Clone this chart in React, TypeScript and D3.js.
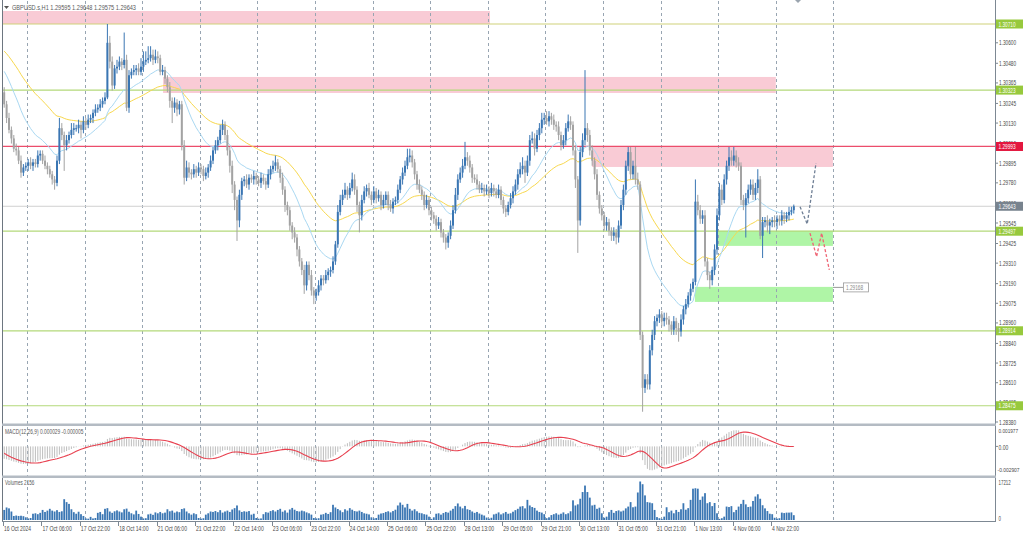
import React from 'react';
import * as d3 from 'd3';

// ---------- DATA (prices in pips above 1.28000) ----------
const PIP_BASE = 1.28;
const firstOpen = 231;
const closes = [
  224,216,209,204,198,197,191,184,187,188,
  190,188,190,189,194,195,191,188,186,183,
  180,178,191,210,206,200,203,206,209,210,
  210,212,209,214,212,215,216,219,221,222,
  224,226,228,260,249,235,245,246,249,247,
  250,222,241,243,244,245,243,246,249,250,
  251,253,250,252,251,243,244,239,234,226,
  222,225,221,224,200,181,187,184,183,186,
  184,187,186,182,184,187,191,197,200,203,
  209,212,206,197,188,177,168,156,171,179,
  180,177,181,180,182,180,178,181,179,177,
  183,186,188,190,186,181,174,165,162,153,
  149,146,139,132,127,118,130,124,115,112,
  114,118,122,121,124,126,127,132,142,161,
  168,171,174,171,175,180,174,165,159,168,
  173,175,171,168,173,169,171,165,168,171,
  165,163,167,168,174,180,184,188,193,194,
  190,183,177,174,171,165,168,162,159,157,
  153,155,149,146,143,147,153,162,171,180,
  184,188,193,191,187,181,180,177,174,175,
  173,174,172,175,173,171,174,168,163,161,
  165,169,173,177,183,186,188,184,191,203,
  204,198,206,210,215,216,214,217,215,212,
  211,206,200,203,210,214,212,197,180,156,
  196,203,210,206,197,191,183,171,163,159,
  153,155,150,147,149,146,153,165,174,188,
  196,183,188,180,177,89,58,63,60,80,
  89,97,99,101,97,99,98,95,92,97,
  93,91,98,104,107,112,116,120,167,162,
  157,159,132,124,121,127,139,159,174,168,
  180,188,193,191,194,190,188,168,165,169,
  174,177,171,175,180,147,155,156,153,155,
  156,155,157,156,159,157,159,161,162,164.3,
];
const upperWicks = [
  3,2,3,2,2,3,2,3,2,2, 2,3,2,2,3,2,2,3,2,2, 2,2,3,6,3,2,3,2,4,3, 2,3,2,3,2,3,2,2,3,2,
  3,2,3,11,4,3,2,4,3,2, 16,3,3,2,3,2,3,5,6,5, 7,5,3,4,3,2,3,2,2,3, 2,3,2,2,2,3,4,3,2,3,
  2,3,2,2,3,2,3,2,3,2, 3,3,2,3,2,3,2,2,3,2, 2,3,2,2,3,2,2,3,2,2, 3,2,3,4,2,2,3,2,2,2,
  2,3,2,2,2,3,2,2,3,2, 2,3,2,2,3,2,2,3,2,4, 3,3,4,2,3,4,3,2,2,3, 3,2,3,2,3,2,3,2,3,2,
  2,3,2,2,3,2,3,3,5,4, 3,2,2,3,2,2,3,2,2,2, 2,3,2,2,2,2,3,3,4,3, 3,4,9,3,3,2,2,3,2,3,
  2,3,2,3,2,2,3,2,2,2, 2,3,3,3,3,4,5,3,3,3, 4,3,3,3,4,3,4,3,2,3, 2,3,2,3,3,4,3,2,3,2,
  3,4,34,3,3,3,2,3,2,2, 2,3,2,2,3,2,3,3,3,3, 3,3,3,11,4,2,2,3,3,3, 3,3,2,3,2,3,3,2,2,3,
  2,3,3,2,3,2,3,2,13,4, 3,3,3,2,2,2,3,4,4,3, 3,3,6,4,5,3,3,2,3,3, 3,3,3,3,6,2,3,2,3,2,
  2,3,2,2,3,2,2,3,2,1,
];
const lowerWicks = [
  2,3,2,3,2,3,2,3,2,2, 3,2,3,2,2,3,2,2,3,2, 3,4,2,2,3,15,3,2,2,3, 2,3,5,2,3,2,2,3,2,2,
  2,2,2,1,4,3,2,3,2,3, 2,2,3,2,2,3,2,2,3,2, 2,2,3,2,3,2,2,3,3,4, 9,3,4,3,3,4,2,3,3,2,
  3,2,3,3,2,3,2,2,2,3, 2,3,3,3,4,5,6,12,4,3, 3,2,3,2,3,3,2,3,2,3, 2,3,2,3,2,3,3,4,3,3,
  4,3,4,3,3,5,3,3,3,5, 3,2,3,3,2,3,3,2,2,2, 2,3,2,3,2,2,3,4,10,3, 2,3,2,3,2,3,2,3,2,3,
  3,2,3,2,2,2,3,2,2,3, 3,3,3,2,3,3,2,3,3,3, 3,2,3,3,4,3,2,2,2,3, 2,3,2,3,3,3,2,3,2,2,
  3,2,3,2,3,2,2,3,3,3, 2,2,3,2,3,2,3,6,2,3, 2,4,2,3,3,3,2,3,3,3, 3,3,3,2,3,2,3,3,5,19,
  3,3,3,4,3,3,3,3,3,3, 3,3,3,3,3,4,3,2,3,3, 3,3,3,3,3,3,14,3,3,3, 3,3,3,3,3,3,3,4,3,3,
  4,6,3,3,3,2,3,2,2,3, 3,3,3,3,5,3,3,3,3,3, 2,3,3,3,3,3,3,3,3,19, 3,3,3,3,3,2,13,3,4,5,
  3,3,4,3,3,3,2,3,2,2,
];
const volumes = [
  4500,5600,5200,3800,1800,2000,1800,1900,1700,1200,
  700,900,2800,3000,2600,3200,4500,3600,4200,5000,
  4200,3800,4400,3600,3900,9300,8000,7200,4800,3500,
  2800,3700,2600,1800,700,600,1400,700,900,3200,
  3600,2600,5000,5300,3800,3200,3900,4300,3800,3400,
  4800,5100,3700,3000,2500,4200,2700,1500,700,800,
  2500,2800,2300,3400,3000,3600,3000,3300,4800,3900,
  4200,3300,3800,3500,4900,5200,3800,3000,2400,3000,
  2600,900,600,800,2400,3000,3800,3600,4000,3500,
  4400,3300,3800,4200,3600,4700,5300,6500,4300,3600,
  3900,3700,4000,2400,2800,900,600,700,2600,3500,
  3300,4000,4400,3800,4500,5000,3700,4300,3300,4700,
  5400,4600,4000,3800,4200,3900,3400,3000,2400,900,
  700,800,2400,2600,3200,2700,3500,6800,5600,4900,
  4300,3500,4800,4200,5300,4600,4000,3800,4200,3600,
  3000,2800,2500,1200,700,900,2400,2900,3100,3600,
  3900,3400,4000,4600,6500,7800,6800,5600,7200,5000,
  4200,4800,3900,3200,3000,2600,2400,1500,500,1200,
  2800,3000,2400,3100,3600,3300,4200,5000,6200,7400,
  6000,5200,6300,4800,4500,3800,3200,3600,2900,2400,
  2000,1100,600,1000,2500,2800,3400,2500,3000,3600,
  2800,3000,3700,4400,5000,6000,6200,5200,9000,6500,
  5800,5400,4200,3600,3300,2600,800,1200,2200,2600,
  3000,2400,2800,3400,2600,3000,3900,8800,6500,7000,
  9500,12500,15400,12500,10000,6500,6800,5000,5500,3000,
  1000,1500,3500,4500,3200,4000,4300,3800,4200,5200,
  6000,8000,5700,6000,12300,17212,16000,11000,8000,7800,
  7500,4500,1300,800,500,1500,5700,3500,4200,3000,
  4500,3600,4800,7500,4600,5300,9000,14000,14200,14000,
  9000,10500,12000,7500,8000,6200,7600,3000,500,800,
  1500,6000,5800,6200,3500,4500,6000,7200,9000,7000,
  5800,6000,8500,10500,11500,9500,6600,5200,4000,2800,
  2600,1000,600,800,3300,3100,3300,3300,3400,2156,
];

const timeLabels = [
  '16 Oct 2024','17 Oct 06:00','17 Oct 22:00','18 Oct 14:00','21 Oct 06:00','21 Oct 22:00',
  '22 Oct 14:00','23 Oct 06:00','23 Oct 22:00','24 Oct 14:00','25 Oct 06:00','25 Oct 22:00',
  '28 Oct 13:00','29 Oct 05:00','29 Oct 21:00','30 Oct 13:00','31 Oct 05:00','31 Oct 21:00',
  '1 Nov 13:00','4 Nov 06:00','4 Nov 22:00',
];
const dayStartBars = [10,34,58,82,106,130,154,178,202,226,250,274,298,322,346];
const priceTicks = [1.30600,1.30480,1.30365,1.30245,1.30130,1.30010,1.29895,1.29780,1.29660,1.29545,
  1.29425,1.29310,1.29190,1.29075,1.28960,1.28840,1.28725,1.28610,1.28495,1.28380];
const greenLevels = [1.30710, 1.30323, 1.29497, 1.28914, 1.28475];
const redLevel = 1.29993;
const lastPrice = 1.29643;
const supplyZones = [
  { b0: -0.5, b1: 202.9, top: 1.30786, bottom: 1.30710 },
  { b0: 66.7, b1: 322, top: 1.30400, bottom: 1.30306 },
  { b0: 245.4, b1: 345.8, top: 1.29996, bottom: 1.29873 },
];
const demandZones = [
  { b0: 297.5, b1: 345.8, top: 1.29499, bottom: 1.29411 },
  { b0: 288.3, b1: 345.8, top: 1.29171, bottom: 1.29083 },
];
const zoneLabel = { price: 1.29168, text: '1.29168' };
const forecastUp: [number, number][] = [[331.6, 1.29640], [334.6, 1.29539], [338.25, 1.29895]];
const forecastDown: [number, number][] = [[335.75, 1.29486], [338.5, 1.29348], [340.6, 1.29486], [343.8, 1.29270]];
const maFastSeed = 1.30453, maSlowSeed = 1.30564;
const ema12Seed = 1.30380, ema26Seed = 1.30520;
const priorMacd = [0.0000, -0.0002, -0.0004, -0.0006, -0.0008, -0.0010, -0.0012, -0.0014];
const macdMin = -0.002907, macdMax = 0.001977, volMax = 17212;
const titleText = 'GBPUSD.s,H1  1.29595 1.29648 1.29575 1.29643';
const macdText = 'MACD(12,26,9) 0.000029 -0.000005';
const volText = 'Volumes 2156';

// ---------- helpers ----------
const px = (v: number) => PIP_BASE + v / 10000;
function ema(vals: number[], n: number, seed: number) {
  const a = 2 / (n + 1); let e = seed; return vals.map(v => (e = e + a * (v - e)));
}
const CH = 2.45; // approx char advance of the small axis font

export default function App() {
  const x = d3.scaleLinear().domain([0, 330]).range([4.2, 796.2]);
  const edge = (b: number) => x(b - 0.5);
  const y = d3.scaleLinear().domain([1.2838, 1.3071]).range([422, 24]);
  const yM = d3.scaleLinear().domain([macdMin, macdMax]).range([472, 429]);
  const yV = d3.scaleLinear().domain([0, volMax]).range([520, 481.5]);

  const cl = closes.map(px);
  const candles = cl.map((c, i) => {
    const o = i === 0 ? px(firstOpen) : cl[i - 1];
    const h = Math.max(o, c) + upperWicks[i] / 10000;
    const l = Math.min(o, c) - lowerWicks[i] / 10000;
    return { i, o, c, h, l, up: c >= o };
  });
  const fast = ema(cl, 20, maFastSeed);
  const slow = ema(cl, 50, maSlowSeed);
  const e12 = ema(cl, 12, ema12Seed);
  const e26 = ema(cl, 26, ema26Seed);
  const macd = e12.map((v, i) => v - e26[i]);
  const allM = [...priorMacd, ...macd];
  const signal = macd.map((_, i) => d3.mean(allM.slice(i, i + 9)) as number);

  const line = d3.line<number>().x((_, i) => x(i)).y(v => y(v));
  const sigLine = d3.line<number>().x((_, i) => x(i)).y(v => yM(v));
  const fLine = d3.line<[number, number]>().x(d => x(d[0])).y(d => y(d[1]));

  const axisColor = '#7d8893';
  const textColor = '#4a4a4a';
  const T = (props: any) => (
    <text fontSize={7} {...props} textLength={String(props.children).length * CH} lengthAdjust="spacingAndGlyphs" />
  );
  const label = (p: number, bg: string, key: string) => (
    <g key={key}>
      <rect x={996} y={y(p) - 4.5} width={27} height={9} fill={bg} />
      <T x={998.5} y={y(p) + 2.6} fill="#fff">{p.toFixed(5)}</T>
    </g>
  );

  return (
    <svg width={1024} height={537} style={{ position: 'absolute', left: 0, top: 0, background: '#fff' }}
      fontFamily="'Liberation Sans',Arial,sans-serif">
      <defs>
        <clipPath id="mainClip"><rect x={3} y={1} width={992} height={422} /></clipPath>
        <clipPath id="macdClip"><rect x={3} y={427} width={992} height={48} /></clipPath>
        <clipPath id="volClip"><rect x={3} y={478} width={992} height={43} /></clipPath>
      </defs>
      <rect x={0} y={0} width={1024} height={537} fill="#fff" />

      {/* zones */}
      <g clipPath="url(#mainClip)">
        {supplyZones.map((z, k) => (
          <rect key={'s' + k} x={edge(z.b0)} y={y(z.top)} width={edge(z.b1) - edge(z.b0)} height={y(z.bottom) - y(z.top)} fill="#f9cbd5" />
        ))}
        {demandZones.map((z, k) => (
          <rect key={'d' + k} x={edge(z.b0)} y={y(z.top)} width={edge(z.b1) - edge(z.b0)} height={y(z.bottom) - y(z.top)} fill="#aff5a6" />
        ))}
      </g>

      {/* vertical grid */}
      {dayStartBars.map(b => (
        <line key={'g' + b} x1={Math.round(edge(b)) + 0.5} x2={Math.round(edge(b)) + 0.5} y1={1} y2={522}
          stroke="#98a5b2" strokeDasharray="3,3" strokeWidth={1} />
      ))}

      {/* levels */}
      <g clipPath="url(#mainClip)">
        {greenLevels.map(p => (
          <line key={'l' + p} x1={3} x2={995} y1={y(p)} y2={y(p)} stroke={p === 1.3071 ? '#cfd27a' : '#b3d97a'} strokeWidth={1.2} />
        ))}
        <line x1={3} x2={995} y1={y(redLevel)} y2={y(redLevel)} stroke="#ec4d6b" strokeWidth={1.2} />
        <line x1={3} x2={995} y1={y(lastPrice)} y2={y(lastPrice)} stroke="#d0d0d0" strokeWidth={1} />

        {/* moving averages */}
        <path d={line(slow) || ''} fill="none" stroke="#f8d84e" strokeWidth={1} />
        <path d={line(fast) || ''} fill="none" stroke="#a9d8f2" strokeWidth={1} />

        {/* candles */}
        {candles.map(d => {
          const col = d.up ? '#3a76b3' : '#a3a3a3';
          const top = y(Math.max(d.o, d.c));
          const bot = y(Math.min(d.o, d.c));
          return (
            <g key={'c' + d.i}>
              <line x1={x(d.i)} x2={x(d.i)} y1={y(d.h)} y2={y(d.l)} stroke={col} strokeWidth={1} />
              <rect x={x(d.i) - 1} y={top} width={2} height={Math.max(1, bot - top)} fill={col} />
            </g>
          );
        })}

        {/* forecast paths */}
        <path d={fLine(forecastUp) || ''} fill="none" stroke="#6f7f95" strokeWidth={1.3} strokeDasharray="3,2" />
        <path d={fLine(forecastDown) || ''} fill="none" stroke="#ef6474" strokeWidth={1.3} strokeDasharray="3,2" />

        {/* zone price label */}
        <line x1={833} x2={843} y1={y(zoneLabel.price)} y2={y(zoneLabel.price)} stroke="#9a9a9a" />
        <rect x={843.5} y={y(zoneLabel.price) - 4.5} width={25} height={9} fill="#fff" stroke="#9a9a9a" strokeWidth={0.8} />
        <T x={846} y={y(zoneLabel.price) + 2.5} fill="#8a8a8a">{zoneLabel.text}</T>
      </g>

      {/* title */}
      <path d="M4,6 L9,6 L6.5,9 Z" fill="#555" />
      <text x={12} y={10} fontSize={7.5} fill="#5a5a5a" textLength={124} lengthAdjust="spacingAndGlyphs">{titleText}</text>

      {/* MACD */}
      <g clipPath="url(#macdClip)">
        {macd.map((m, i) => (
          <line key={'m' + i} x1={x(i)} x2={x(i)} y1={yM(0)} y2={yM(m)} stroke="#bdbdbd" strokeWidth={1} />
        ))}
        <path d={sigLine(signal) || ''} fill="none" stroke="#e8404f" strokeWidth={1.1} />
      </g>
      <T x={5} y={434} fill="#5a5a5a">{macdText}</T>

      {/* Volumes */}
      <g clipPath="url(#volClip)">
        {volumes.map((v, i) => (
          <rect key={'v' + i} x={x(i) - 0.9} y={yV(v)} width={1.8} height={yV(0) - yV(v)} fill="#3a76b3" />
        ))}
      </g>
      <T x={5} y={485} fill="#5a5a5a">{volText}</T>

      {/* frame & separators */}
      <line x1={2.5} x2={2.5} y1={0} y2={522} stroke="#6d7680" />
      <line x1={995.5} x2={995.5} y1={0} y2={522} stroke={axisColor} />
      <rect x={2} y={423.5} width={994} height={2.5} fill="#b4bbc3" />
      <rect x={2} y={475.5} width={994} height={2.5} fill="#b4bbc3" />
      <line x1={2} x2={996} y1={521.5} y2={521.5} stroke={axisColor} />

      {/* price axis */}
      {priceTicks.map(p => (
        <g key={'t' + p}>
          <line x1={995} x2={998} y1={y(p)} y2={y(p)} stroke={axisColor} />
          <T x={999} y={y(p) + 2.5} fill={textColor}>{p.toFixed(5)}</T>
        </g>
      ))}
      {greenLevels.map(p => label(p, '#97c93d', 'gl' + p))}
      {label(lastPrice, '#78838e', 'lp')}
      {label(redLevel, '#e3173f', 'rl')}

      {/* MACD axis */}
      <T x={998.5} y={433} fill={textColor} fontSize={5.8}>0.001977</T>
      <T x={998.5} y={449.5} fill={textColor}>0.00</T>
      <line x1={995} x2={998} y1={yM(0)} y2={yM(0)} stroke={axisColor} />
      <T x={997.5} y={472} fill={textColor} fontSize={5.6}>-0.002907</T>
      {/* Volume axis */}
      <T x={998.5} y={485} fill={textColor}>17212</T>
      <T x={998.5} y={520.5} fill={textColor}>0</T>

      {/* time axis */}
      {timeLabels.map((t, k) => (
        <g key={'x' + k}>
          <line x1={Math.round(edge(k * 16)) + 0.5} x2={Math.round(edge(k * 16)) + 0.5} y1={522} y2={526} stroke={axisColor} />
          <T x={edge(k * 16) + 1} y={531} fill={textColor}>{t}</T>
        </g>
      ))}
      <path d="M795,0 L801,0 L798,3 Z" fill="#9aa4ae" />
    </svg>
  );
}
